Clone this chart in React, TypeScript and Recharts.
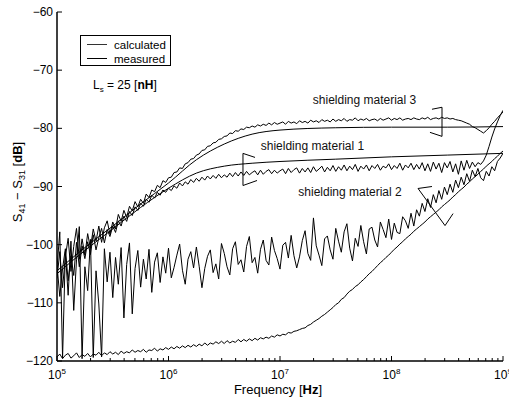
import React from 'react';
import { LineChart, Line, XAxis, YAxis, ReferenceDot } from 'recharts';

const FONT = '"Liberation Sans", Arial, Helvetica, sans-serif';

// ---- axes ----
const xDecades = [5, 6, 7, 8];
const xMinorMult = [2, 3, 4, 5, 6, 7, 8, 9];
const xLast = 9;
const yTicks = [-120, -110, -100, -90, -80, -70, -60];

// ---- measured sweep (log10 Hz start and step) ----
const sweepStart = 5;
const sweepStep = 0.025;

// measured, shielding material 3
const meas3 = [
  -105.8, -101.2, -107.4, -102.1, -98.9, -104.6, -100.3, -97.2, -102.5, -99.0,
  -101.8, -98.1, -100.6, -97.3, -99.4, -96.8, -99.6, -97.1, -95.9, -98.2,
  -96.1, -97.3, -94.8, -96.0, -94.1, -95.3, -93.4, -94.2, -92.6, -93.5,
  -92.2, -92.9, -91.3, -91.9, -90.6, -90.9, -89.8, -90.2, -89.0, -89.3,
  -88.5, -88.4, -87.6, -87.5, -86.8, -86.9, -86.1, -85.9, -85.3, -85.2,
  -84.6, -84.4, -83.8, -83.7, -83.1, -83.0, -82.5, -82.4, -81.9, -81.8,
  -81.4, -81.3, -80.8, -80.9, -80.4, -80.5, -80.1, -80.2, -79.8, -79.9,
  -79.6, -79.8, -79.4, -79.6, -79.3, -79.5, -79.1, -79.4, -79.0, -79.3,
  -79.1, -78.9, -79.3, -78.8, -79.1, -78.9, -79.2, -78.7, -79.0, -78.8,
  -79.1, -78.6, -78.9, -78.7, -79.0, -78.5, -78.8, -78.6, -78.9, -78.4,
  -78.8, -78.5, -78.7, -78.3, -78.8, -78.5, -78.6, -78.2, -78.7, -78.4,
  -78.6, -78.3, -78.7, -78.5, -78.4, -78.7, -78.3, -78.6, -78.4, -78.2,
  -78.6, -78.3, -78.5, -78.2, -78.6, -78.4, -78.3, -78.5, -78.2, -78.4,
  -78.5, -78.2, -78.4, -78.1, -78.5, -78.3, -78.2, -78.4, -78.1, -78.3,
  -78.2, -78.4, -78.3, -78.5, -78.6, -78.7, -78.9, -79.1, -79.3, -79.7,
  -79.9, -80.2, -80.5, -80.8, -80.4, -79.9, -79.3, -78.8, -78.2, -77.7,
  -77.2,
];

// measured, shielding material 1
const meas1 = [
  -103.5, -108.9, -104.1, -100.7, -106.2, -101.9, -105.3, -99.6, -103.8, -100.2,
  -102.4, -99.5, -101.7, -98.3, -100.9, -98.8, -97.2, -99.7, -97.4, -98.6,
  -96.8, -97.9, -95.9, -96.8, -95.1, -96.0, -94.3, -95.0, -93.5, -94.1,
  -92.9, -93.4, -92.2, -92.7, -91.5, -92.0, -91.0, -91.5, -90.6, -91.0,
  -90.3, -90.7, -89.9, -90.3, -89.4, -89.9, -89.2, -89.6, -88.8, -89.3,
  -88.6, -89.1, -88.4, -88.9, -88.2, -88.7, -88.1, -88.6, -87.9, -88.5,
  -88.0, -88.4, -87.7, -88.3, -87.6, -88.2, -87.5, -88.1, -87.4, -88.0,
  -87.6, -87.3, -88.0, -87.2, -87.9, -87.4, -87.1, -87.8, -87.2, -87.7,
  -87.3, -87.0, -87.8, -86.9, -87.6, -87.1, -86.8, -87.7, -86.9, -87.5,
  -86.8, -87.6, -86.6, -87.4, -87.0, -86.5, -87.5, -86.7, -87.3, -86.4,
  -87.4, -86.6, -87.2, -86.3, -87.3, -86.5, -87.1, -86.2, -87.4, -86.5,
  -87.0, -86.3, -87.3, -86.4, -86.9, -86.2, -87.2, -86.5, -86.8, -86.1,
  -87.1, -86.4, -86.9, -86.0, -87.2, -86.3, -86.8, -86.0, -87.1, -86.2,
  -87.0, -85.9, -87.3, -86.1, -87.4, -85.8, -87.0, -86.0, -87.6, -85.9,
  -86.8, -85.7, -87.5, -86.1, -87.9, -85.6, -87.2, -85.5, -86.9, -85.8,
  -86.6, -85.9, -86.2, -85.6, -84.6, -83.1, -81.5, -80.1, -78.9, -77.8,
  -76.9,
];

// measured, shielding material 2
const meas2 = [
  -104.0, -97.8, -119.5, -101.2, -108.7, -99.4, -111.3, -102.6, -96.9, -119.6,
  -103.8, -107.9, -99.1, -119.4, -104.5, -110.2, -119.3, -100.7, -106.4, -101.3,
  -109.1, -102.2, -106.8, -100.5, -112.6, -103.4, -99.7, -111.9, -104.1, -101.0,
  -107.3, -102.5, -105.9, -100.8, -108.2, -103.0, -101.4, -106.5, -102.1, -104.9,
  -100.6, -105.7, -103.9, -101.8, -99.9, -104.4, -106.8, -102.5, -101.2, -104.0,
  -100.4, -103.7, -107.4, -104.1, -102.0, -100.9, -104.8, -103.3, -105.9, -99.8,
  -101.5, -103.8, -105.2, -100.7, -99.5, -103.4, -102.6, -104.7, -100.3, -98.6,
  -103.1, -102.2, -104.9, -100.8, -99.2, -102.7, -103.5, -98.7, -101.0, -102.4,
  -104.2, -100.1, -99.6, -102.3, -98.4, -101.9, -104.0, -102.1, -99.3, -97.6,
  -101.5, -102.7, -95.4, -100.2, -101.8, -103.6, -99.0, -98.5, -100.9, -102.5,
  -97.2, -99.4, -101.3, -97.8, -96.4, -100.6, -102.8, -98.9, -100.3, -96.7,
  -99.5, -101.6, -97.3, -97.0, -99.2, -100.4, -96.1, -97.4, -98.8, -95.6,
  -99.1, -96.3, -97.9, -98.1, -95.2, -95.9, -97.2, -94.6, -96.8, -94.0,
  -95.1, -92.9, -94.3, -92.1, -93.6, -91.4, -92.8, -90.7, -92.2, -90.1,
  -91.4, -89.6, -91.0, -88.9, -90.2, -88.4, -89.7, -87.8, -89.1, -87.2,
  -88.3, -86.9, -88.5, -89.0, -87.4, -88.2, -86.6, -87.3, -85.7, -85.1,
  -84.3,
];

// calculated, shielding material 2 (same sweep)
const calc2 = [
  -119.3, -118.8, -119.6, -119.0, -118.7, -119.5, -119.1, -118.6, -119.4, -118.9,
  -119.2, -118.7, -119.3, -118.8, -119.0, -118.5, -119.1, -118.6, -118.9, -118.4,
  -118.8, -118.5, -118.9, -118.3, -118.7, -118.4, -118.6, -118.1, -118.5, -118.2,
  -118.4, -118.0, -118.5, -118.1, -118.2, -117.8, -118.3, -117.9, -118.1, -117.7,
  -118.0, -117.6, -117.9, -117.5, -117.8, -117.4, -117.7, -117.3, -117.6, -117.2,
  -117.5, -117.1, -117.4, -116.9, -117.3, -116.9, -117.1, -116.7, -117.0, -116.6,
  -117.0, -116.5, -116.9, -116.6, -116.8, -116.3, -116.7, -116.3, -116.6, -116.2,
  -116.5, -116.1, -116.4, -116.0, -116.2, -115.9, -116.1, -115.7, -115.9, -115.5,
  -115.7, -115.4, -115.5, -115.1, -115.2, -114.9, -114.8, -114.6, -114.4, -114.3,
  -113.9, -113.7, -113.3, -113.0, -112.7, -112.3, -112.0, -111.6, -111.2, -110.8,
  -110.3, -110.0, -109.4, -109.1, -108.5, -108.0, -107.7, -107.2, -106.9, -106.4,
  -106.0, -105.5, -105.0, -104.6, -104.1, -103.6, -103.1, -102.7, -102.2, -101.8,
  -101.3, -100.8, -100.4, -99.9, -99.5, -99.0, -98.6, -98.2, -97.7, -97.3,
  -96.9, -96.5, -96.1, -95.6, -95.2, -94.8, -94.4, -94.0, -93.5, -93.1,
  -92.7, -92.3, -91.8, -91.4, -90.9, -90.5, -90.1, -89.6, -89.2, -88.7,
  -88.3, -87.9, -87.4, -87.0, -86.5, -86.1, -85.7, -85.2, -84.8, -84.3,
  -83.9,
];

// calculated, materials 3 and 1 (log10 Hz)
const calcExp = [5.0, 5.25, 5.5, 5.75, 6.0, 6.25, 6.5, 6.75, 7.0, 7.5, 8.0, 8.5, 9.0];
const calc3 = [-104.5, -100.5, -96.8, -93.0, -89.4, -85.4, -82.7, -81.0, -80.3, -79.9, -79.8, -79.8, -79.7];
const calc1 = [-105.0, -101.0, -97.3, -93.6, -90.3, -87.7, -86.5, -86.0, -85.7, -85.3, -84.9, -84.6, -84.3];

// annotation strokes (log10 Hz, dB)
const bracket3Exp = [8.363, 8.453, 8.453, 8.345];
const bracket3Db = [-76.72, -76.38, -81.38, -80.69];
const bracket1Exp = [6.776, 6.668, 6.668, 6.794];
const bracket1Db = [-85.0, -84.31, -89.83, -88.97];
const pointer2Exp = [8.363, 8.238, 8.48, 8.552];
const pointer2Db = [-90.0, -90.34, -96.72, -94.66];

const labels = [
  { text: 'shielding material 3', exp: 7.758, db: -75.17 },
  { text: 'shielding material 1', exp: 7.291, db: -82.93 },
  { text: 'shielding material 2', exp: 7.628, db: -90.86 },
];

// ---- build ----
const xTicks: number[] = [];
xDecades.forEach((d) => {
  xTicks.push(10 ** d);
  xMinorMult.forEach((k) => xTicks.push(k * 10 ** d));
});
xTicks.push(10 ** xLast);

const sweepPts = (vals: number[]) => vals.map((v, i) => ({ f: 10 ** (sweepStart + i * sweepStep), v }));
const pts = (exps: number[], vals: number[]) => exps.map((e, i) => ({ f: 10 ** e, v: vals[i] }));

const isMajor = (v: number) => {
  const l = Math.log10(v);
  return Math.abs(l - Math.round(l)) < 1e-6;
};

const BottomTick = (p: any) => {
  const { x, y, payload } = p;
  const major = isMajor(payload.value);
  const e = Math.round(Math.log10(payload.value));
  return (
    <g>
      <line x1={x} x2={x} y1={y} y2={y - (major ? 5 : 3)} stroke="#000" strokeWidth={1} />
      {major && (
        <text x={x} y={y + 18} textAnchor="middle" fontSize={12} fill="#000">
          10
          <tspan dy={-5} fontSize={8}>{e}</tspan>
        </text>
      )}
    </g>
  );
};

const TopTick = (p: any) => {
  const { x, y, payload } = p;
  const major = isMajor(payload.value);
  return <line x1={x} x2={x} y1={y} y2={y + (major ? 5 : 3)} stroke="#000" strokeWidth={1} />;
};

const LeftTick = (p: any) => {
  const { x, y, payload } = p;
  return (
    <g>
      <line x1={x} x2={x + 5} y1={y} y2={y} stroke="#000" strokeWidth={1} />
      <text x={x - 4} y={y + 4} textAnchor="end" fontSize={12} fill="#000">
        {payload.value < 0 ? '\u2212' + Math.abs(payload.value) : payload.value}
      </text>
    </g>
  );
};

const RightTick = (p: any) => {
  const { x, y } = p;
  return <line x1={x} x2={x - 5} y1={y} y2={y} stroke="#000" strokeWidth={1} />;
};

const axisLine = { stroke: '#000', strokeWidth: 1.5 };

export default function App() {
  const lineProps = {
    xAxisId: 'b',
    yAxisId: 'l',
    dataKey: 'v',
    stroke: '#000',
    dot: false,
    isAnimationActive: false,
    legendType: 'none' as const,
  };
  return (
    <div style={{ position: 'absolute', left: 0, top: 0, width: 509, height: 399, fontFamily: FONT, background: '#fff' }}>
      <LineChart width={509} height={399} margin={{ top: 12, right: 6, bottom: 0, left: 0 }}>
        <XAxis
          xAxisId="b"
          dataKey="f"
          type="number"
          scale="log"
          domain={[1e5, 1e9]}
          ticks={xTicks}
          interval={0}
          tick={BottomTick}
          tickSize={0}
          tickMargin={0}
          tickLine={false}
          axisLine={axisLine}
          height={38}
          allowDataOverflow
        />
        <XAxis
          xAxisId="t"
          orientation="top"
          dataKey="f"
          type="number"
          scale="log"
          domain={[1e5, 1e9]}
          ticks={xTicks}
          interval={0}
          tick={TopTick}
          tickSize={0}
          tickMargin={0}
          tickLine={false}
          axisLine={axisLine}
          height={0}
          allowDataOverflow
        />
        <YAxis
          yAxisId="l"
          type="number"
          domain={[-120, -60]}
          ticks={yTicks}
          interval={0}
          tick={LeftTick}
          tickSize={0}
          tickMargin={0}
          tickLine={false}
          axisLine={axisLine}
          width={57}
          allowDataOverflow
        />
        <YAxis
          yAxisId="r"
          orientation="right"
          type="number"
          domain={[-120, -60]}
          ticks={yTicks}
          interval={0}
          tick={RightTick}
          tickSize={0}
          tickMargin={0}
          tickLine={false}
          axisLine={axisLine}
          width={0}
          allowDataOverflow
        />
        <Line {...lineProps} data={sweepPts(meas2)} strokeWidth={1} type="linear" />
        <Line {...lineProps} data={sweepPts(calc2)} strokeWidth={1} type="linear" />
        <Line {...lineProps} data={sweepPts(meas1)} strokeWidth={1} type="linear" />
        <Line {...lineProps} data={sweepPts(meas3)} strokeWidth={1} type="linear" />
        <Line {...lineProps} data={pts(calcExp, calc1)} strokeWidth={1} type="monotone" />
        <Line {...lineProps} data={pts(calcExp, calc3)} strokeWidth={1} type="monotone" />
        <Line {...lineProps} data={pts(bracket3Exp, bracket3Db)} strokeWidth={1} type="linear" />
        <Line {...lineProps} data={pts(bracket1Exp, bracket1Db)} strokeWidth={1} type="linear" />
        <Line {...lineProps} data={pts(pointer2Exp, pointer2Db)} strokeWidth={1} type="linear" />
        {labels.map((l) => (
          <ReferenceDot
            key={l.text}
            xAxisId="b"
            yAxisId="l"
            x={10 ** l.exp}
            y={l.db}
            r={0}
            fill="none"
            stroke="none"
            label={{ value: l.text, position: 'center', fontSize: 12, fill: '#111' }}
          />
        ))}
      </LineChart>

      {/* legend */}
      <div
        style={{
          position: 'absolute',
          left: 80,
          top: 35,
          width: 89,
          height: 29,
          border: '1px solid #000',
          background: '#fff',
        }}
      >
        <svg width={89} height={29} style={{ position: 'absolute', left: 0, top: 0, overflow: 'visible' }}>
          <line x1={6} x2={26} y1={8.5} y2={8.5} stroke="#333" strokeWidth={1} />
          <line x1={6} x2={26} y1={22.5} y2={22.5} stroke="#000" strokeWidth={1} />
          <text x={33} y={13} fontSize={11.5} fill="#000">calculated</text>
          <text x={33} y={27} fontSize={11.5} fill="#000">measured</text>
        </svg>
      </div>

      {/* text overlays */}
      <svg width={509} height={399} style={{ position: 'absolute', left: 0, top: 0, pointerEvents: 'none' }}>
        <text x={93} y={89} fontSize={12} fill="#000">
          L<tspan dy={3} fontSize={8}>s</tspan>
          <tspan dy={-3}> = 25 [</tspan>
          <tspan fontWeight="bold">nH</tspan>]
        </text>
        <text x={278} y={394} fontSize={13} textAnchor="middle" fill="#000">
          Frequency [<tspan fontWeight="bold">Hz</tspan>]
        </text>
        <text transform="translate(22,182) rotate(-90)" fontSize={13} textAnchor="middle" fill="#000">
          S<tspan dy={3} fontSize={9}>41</tspan>
          <tspan dy={-3}> {'\u2212'} S</tspan>
          <tspan dy={3} fontSize={9}>31</tspan>
          <tspan dy={-3}> [</tspan>
          <tspan fontWeight="bold">dB</tspan>]
        </text>
      </svg>
    </div>
  );
}
